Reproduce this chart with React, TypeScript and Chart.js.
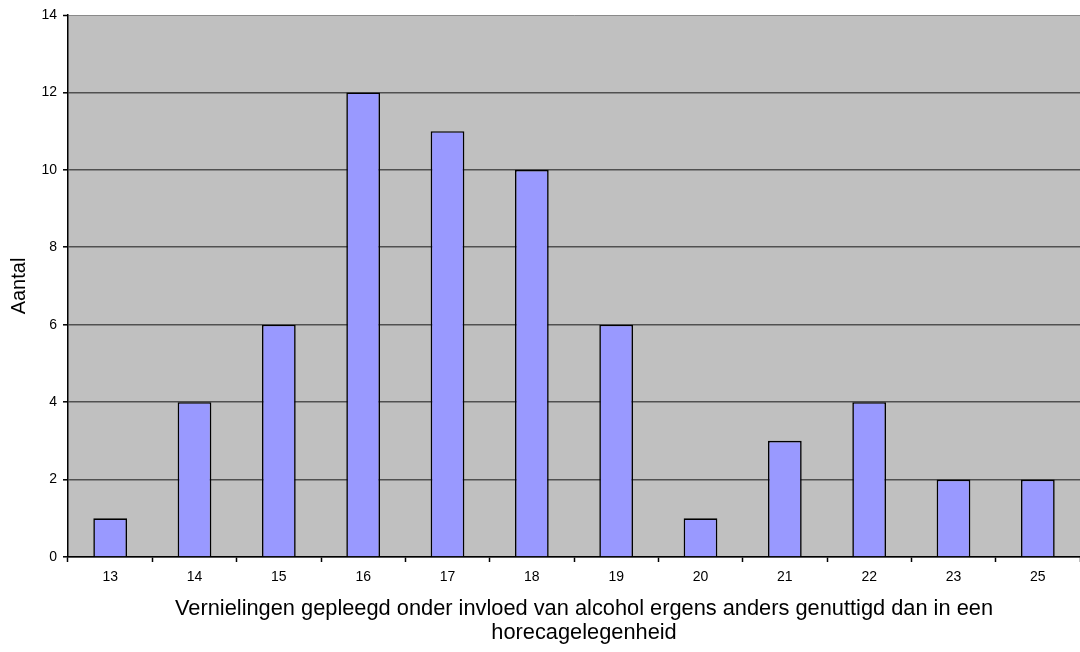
import React, { useEffect, useRef } from "react";
import { Chart, registerables } from "chart.js";

Chart.register(...registerables);

const categories = ["13", "14", "15", "16", "17", "18", "19", "20", "21", "22", "23", "25"];
const counts = [1, 4, 6, 12, 11, 10, 6, 1, 3, 4, 2, 2];
const xTitle = ["Vernielingen gepleegd onder invloed van alcohol ergens anders genuttigd dan in een", "horecagelegenheid"];
const yTitle = "Aantal";

const bgPlugin = {
  id: "plotBg",
  beforeDraw(chart: any) {
    const { ctx, chartArea } = chart;
    if (!chartArea) return;
    ctx.save();
    ctx.fillStyle = "#C0C0C0";
    ctx.fillRect(chartArea.left, chartArea.top, chartArea.right - chartArea.left, chartArea.bottom - chartArea.top);
    ctx.restore();
  },
};

const xTitlePlugin = {
  id: "xTitle",
  afterDraw(chart: any) {
    const { ctx, chartArea } = chart;
    if (!chartArea) return;
    const cx = (chartArea.left + chartArea.right) / 2 + 10;
    const lineH = 24;
    const lastY = chart.height - 7.5 - lineH / 2;
    ctx.save();
    ctx.fillStyle = "#000000";
    ctx.font = "21.8px 'Liberation Sans'";
    ctx.textAlign = "center";
    ctx.textBaseline = "middle";
    xTitle.forEach((line, i) => {
      ctx.fillText(line, cx, lastY - (xTitle.length - 1 - i) * lineH);
    });
    ctx.restore();
  },
};

export default function App() {
  const ref = useRef<HTMLCanvasElement | null>(null);
  useEffect(() => {
    document.body.style.margin = "0";
    const chart = new Chart(ref.current as HTMLCanvasElement, {
      type: "bar",
      data: {
        labels: categories,
        datasets: [
          {
            data: counts,
            backgroundColor: "#9999FF",
            borderColor: "#000000",
            borderWidth: 1.6,
            barPercentage: 0.4,
            categoryPercentage: 1,
          },
        ],
      },
      options: {
        animation: false,
        responsive: false,
        maintainAspectRatio: false,
        layout: { padding: { top: 15, right: 0, left: 0, bottom: 0 } },
        plugins: { legend: { display: false }, tooltip: { enabled: false } },
        scales: {
          x: {
            offset: true,
            grid: {
              offset: true,
              drawOnChartArea: false,
              drawTicks: true,
              tickLength: 5,
              tickColor: "#000000",
              tickWidth: 1.5,
            },
            border: { color: "#000000", width: 1.5 },
            ticks: {
              color: "#000000",
              font: { family: "Liberation Sans", size: 14 },
              padding: 7,
              maxRotation: 0,
            },
            title: { display: false },
            afterFit(scale: any) {
              scale.height = 95;
            },
          },
          y: {
            min: 0,
            max: 14,
            ticks: {
              stepSize: 2,
              color: "#000000",
              font: { family: "Liberation Sans", size: 14 },
              padding: 6,
            },
            grid: {
              color: (ctx: any) => (ctx.tick && ctx.tick.value === 14 ? "#8a8a8a" : "#505050"),
              lineWidth: (ctx: any) => (ctx.tick && ctx.tick.value === 14 ? 1 : 1.6),
              tickLength: 5,
              tickColor: "#000000",
              tickWidth: 1.5,
            },
            border: { color: "#000000", width: 1.5 },
            title: {
              display: true,
              text: yTitle,
              color: "#000000",
              font: { family: "Liberation Sans", size: 20, lineHeight: 1.2 },
              padding: { top: 7, bottom: 0 },
            },
            afterFit(scale: any) {
              scale.width = 68;
            },
          },
        },
      },
      plugins: [bgPlugin, xTitlePlugin],
    });
    return () => chart.destroy();
  }, []);
  return (
    <div style={{ position: "fixed", left: 0, top: 0, width: 1080, height: 652 }}>
      <canvas ref={ref} width={1080} height={652} style={{ width: 1080, height: 652 }} />
    </div>
  );
}
